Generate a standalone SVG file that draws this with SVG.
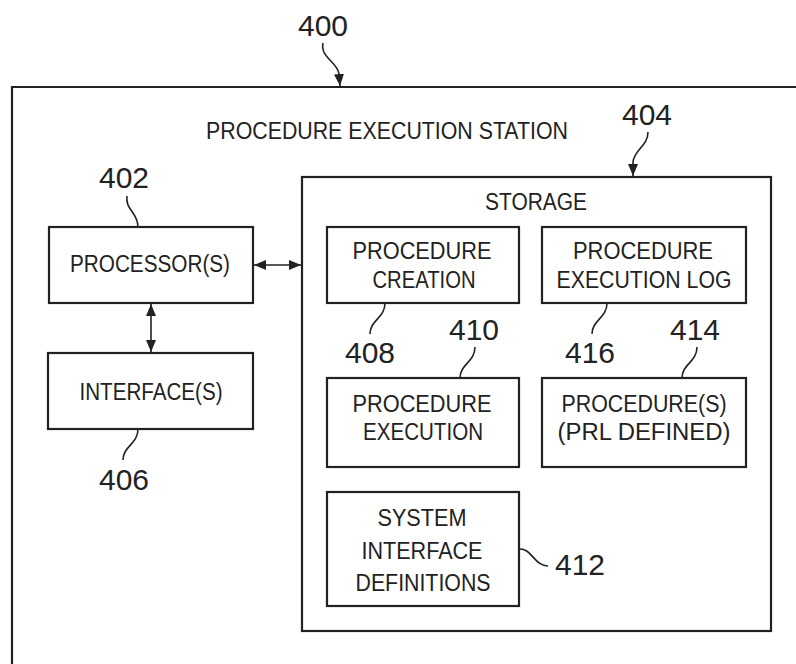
<svg xmlns="http://www.w3.org/2000/svg" width="796" height="664" viewBox="0 0 796 664">
<defs>
<style>
.box{fill:none;stroke:#222;stroke-width:2.2}
.ln{fill:none;stroke:#222;stroke-width:1.6}
.t{font-family:"Liberation Sans",Arial,sans-serif;font-size:23.5px;fill:#222;text-anchor:middle}
.n{font-family:"Liberation Sans",Arial,sans-serif;font-size:30px;fill:#222;text-anchor:middle}
</style>
<marker id="ah" viewBox="0 0 12 10" refX="12" refY="5" markerWidth="12" markerHeight="10" markerUnits="userSpaceOnUse" orient="auto-start-reverse">
<path d="M0,0 L12,5 L0,10 Z" fill="#222"/>
</marker>
</defs>
<rect width="796" height="664" fill="#fff"/>
<g id="station">
<path class="box" d="M796,87 H12 V664"/>
<text class="t" x="387" y="139" textLength="362" lengthAdjust="spacingAndGlyphs">PROCEDURE EXECUTION STATION</text>
</g>
<g id="storage">
<rect class="box" x="302" y="177" width="469" height="454"/>
<text class="t" x="536" y="210" textLength="102" lengthAdjust="spacingAndGlyphs">STORAGE</text>
</g>
<g id="processor">
<rect class="box" x="49" y="227" width="204" height="76"/>
<text class="t" x="150" y="272" textLength="160" lengthAdjust="spacingAndGlyphs">PROCESSOR(S)</text>
</g>
<g id="interface">
<rect class="box" x="48" y="353" width="205" height="76"/>
<text class="t" x="151" y="400" textLength="143" lengthAdjust="spacingAndGlyphs">INTERFACE(S)</text>
</g>
<g id="creation">
<rect class="box" x="327" y="227" width="192" height="76"/>
<text class="t" x="422" y="259" textLength="139" lengthAdjust="spacingAndGlyphs">PROCEDURE</text>
<text class="t" x="424" y="288" textLength="103" lengthAdjust="spacingAndGlyphs">CREATION</text>
</g>
<g id="execlog">
<rect class="box" x="542" y="227" width="204" height="76"/>
<text class="t" x="643" y="259" textLength="140" lengthAdjust="spacingAndGlyphs">PROCEDURE</text>
<text class="t" x="644" y="288" textLength="175" lengthAdjust="spacingAndGlyphs">EXECUTION LOG</text>
</g>
<g id="execution">
<rect class="box" x="327" y="378" width="192" height="89"/>
<text class="t" x="422" y="412" textLength="139" lengthAdjust="spacingAndGlyphs">PROCEDURE</text>
<text class="t" x="423" y="440" textLength="120" lengthAdjust="spacingAndGlyphs">EXECUTION</text>
</g>
<g id="procedures">
<rect class="box" x="542" y="378" width="204" height="89"/>
<text class="t" x="644" y="412" textLength="165" lengthAdjust="spacingAndGlyphs">PROCEDURE(S)</text>
<text class="t" x="644" y="440" textLength="173" lengthAdjust="spacingAndGlyphs">(PRL DEFINED)</text>
</g>
<g id="sysif">
<rect class="box" x="327" y="492" width="192" height="114"/>
<text class="t" x="422" y="526" textLength="89" lengthAdjust="spacingAndGlyphs">SYSTEM</text>
<text class="t" x="422" y="559" textLength="121" lengthAdjust="spacingAndGlyphs">INTERFACE</text>
<text class="t" x="423" y="591" textLength="135" lengthAdjust="spacingAndGlyphs">DEFINITIONS</text>
</g>
<g id="labels">
<text class="n" x="323" y="36">400</text>
<text class="n" x="647" y="125">404</text>
<text class="n" x="124" y="188">402</text>
<text class="n" x="124" y="490">406</text>
<text class="n" x="370" y="363">408</text>
<text class="n" x="474" y="340">410</text>
<text class="n" x="590" y="363">416</text>
<text class="n" x="695" y="340">414</text>
<text class="n" x="580" y="575">412</text>
</g>
<g id="connectors">
<line class="ln" x1="254" y1="265" x2="301" y2="265" marker-start="url(#ah)" marker-end="url(#ah)"/>
<line class="ln" x1="151" y1="304" x2="151" y2="352" marker-start="url(#ah)" marker-end="url(#ah)"/>
<path class="ln" d="M323,43 C320,58 338,62 339,74 L340,86" marker-end="url(#ah)"/>
<path class="ln" d="M648,132 C648,146 634,150 633,162 L633,176" marker-end="url(#ah)"/>
<path class="ln" d="M127,196 C125,210 138,212 138,227"/>
<path class="ln" d="M138,429 C138,444 123,446 123,460"/>
<path class="ln" d="M385,303 C385,318 370,320 370,334"/>
<path class="ln" d="M475,347 C475,362 460,364 460,378"/>
<path class="ln" d="M607,303 C607,318 592,320 592,334"/>
<path class="ln" d="M697,347 C697,362 682,364 682,378"/>
<path class="ln" d="M519,549 C532,548 534,566 548,566"/>
</g>
</svg>
